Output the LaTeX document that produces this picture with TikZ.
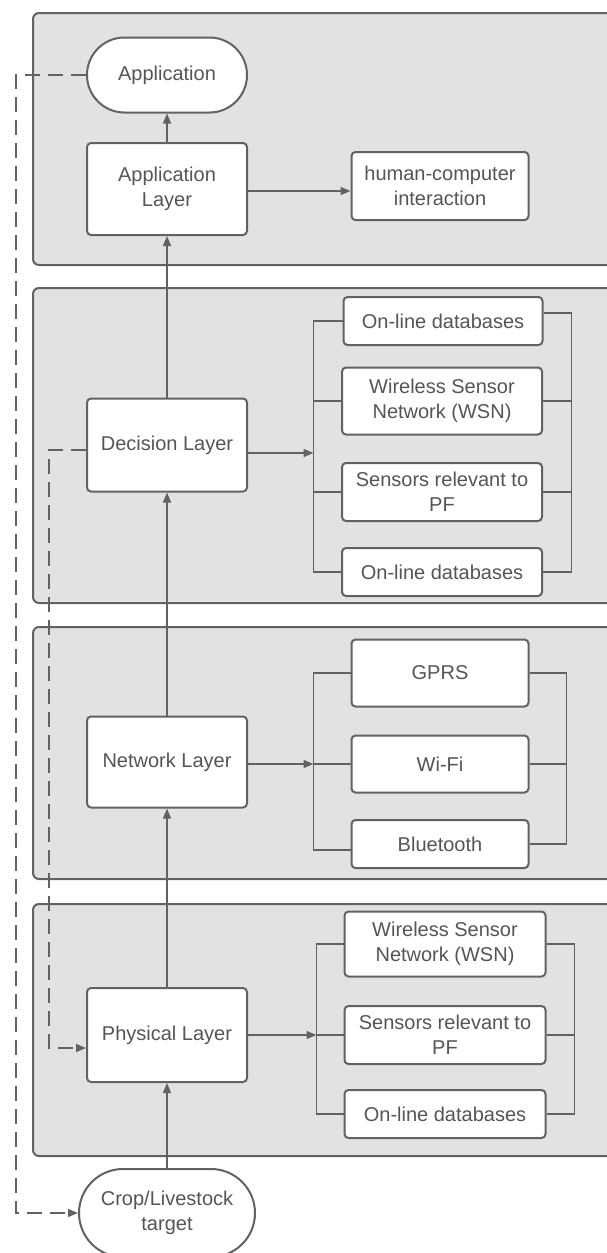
\documentclass[tikz,border=0pt]{standalone}
\usepackage{fontspec}
\setmainfont{Liberation Sans}
\usetikzlibrary{
	arrows.meta,
	shapes.misc,
}
\definecolor{panelfill}{HTML}{E2E2E2}
\definecolor{linegray}{HTML}{626262}
\definecolor{textgray}{HTML}{555555}

\begin{document}
\begin{tikzpicture}[x=1pt, y=-1pt,
	every node/.style={text=textgray, font=\fontsize{20}{25}\selectfont, align=center, inner sep=2pt},
	panel/.style={fill=panelfill, draw=linegray, line width=2pt, rounded corners=6pt},
	layerbox/.style={draw=linegray, fill=white, line width=2pt, rounded corners=4pt, minimum width=160pt},
	itembox/.style={draw=linegray, fill=white, line width=2pt, rounded corners=4pt},
	pill/.style={rounded rectangle, draw=linegray, fill=white, line width=2pt},
	link/.style={draw=linegray, line width=1.5pt},
	arr/.style={link, -{Triangle[length=10pt,width=8pt]}},
	feedback/.style={link, dash pattern=on 15pt off 8pt},
	]
\useasboundingbox (0,0) rectangle (606,1253);

% layer panels
\draw[panel] (33,13) rectangle (614,265);
\draw[panel] (33,288) rectangle (614,603);
\draw[panel] (33,627) rectangle (614,879);
\draw[panel] (33,904) rectangle (614,1156);

%% application layer
\node[pill, minimum width=164pt, minimum height=75pt] (app) at (167,75) {Application};
\node[layerbox, minimum height=92pt] (applayer) at (167,189) {Application\\Layer};
\node[itembox, minimum width=177pt, minimum height=68pt] (hci) at (440,186) {human-computer\\interaction};
\draw[arr] (applayer) -- (app);
\draw[arr] ([yshift=-2pt]applayer.east) -- ([yshift=-2pt]applayer.east -| hci.west);

%% decision layer
\node[layerbox, minimum height=93pt] (decision) at (167,445) {Decision Layer};
\node[itembox, minimum width=199pt, minimum height=48pt] (dec1) at (443,321) {On-line databases};
\node[itembox, minimum width=200pt, minimum height=67pt] (dec2) at (442,401) {Wireless Sensor\\Network (WSN)};
\node[itembox, minimum width=200pt, minimum height=58pt] (dec3) at (442,492) {Sensors relevant to\\PF};
\node[itembox, minimum width=200pt, minimum height=48pt] (dec4) at (442,572) {On-line databases};
\draw[arr] (decision) -- (applayer);
\draw[link] (dec1.west) -- ++(-29,0) coordinate (decL) |- (dec4.west);
\draw[link] (dec2.west) -- (dec2.west -| decL);
\draw[link] (dec3.west) -- (dec3.west -| decL);
\draw[link] ([yshift=8pt]dec1.east) -- ++(28,0) coordinate (decR) |- (dec4.east);
\draw[link] (dec2.east) -- (dec2.east -| decR);
\draw[link] (dec3.east) -- (dec3.east -| decR);
\draw[arr] ([yshift=-8pt]decision.east) -- ([yshift=-8pt]decision.east -| decL);

%% network layer
\node[layerbox, minimum height=91pt] (network) at (167,762) {Network Layer};
\node[itembox, minimum width=177pt, minimum height=67pt] (gprs) at (440,673) {GPRS};
\node[itembox, minimum width=177pt, minimum height=57pt] (wifi) at (440,764) {Wi-Fi};
\node[itembox, minimum width=177pt, minimum height=48pt] (bt) at (440,844) {Bluetooth};
\draw[arr] (network) -- (decision);
\draw[link] (gprs.west) -- ++(-37,0) coordinate (netL) |- ([yshift=-6pt]bt.west);
\draw[link] (wifi.west) -- (wifi.west -| netL);
\draw[link] (gprs.east) -- ++(37,0) coordinate (netR) |- (bt.east);
\draw[link] (wifi.east) -- (wifi.east -| netR);
\draw[arr] ([yshift=-2pt]network.east) -- ([yshift=-2pt]network.east -| netL);

%% physical layer
\node[layerbox, minimum height=94pt] (physical) at (167,1035) {Physical Layer};
\node[itembox, minimum width=201pt, minimum height=65pt] (phy1) at (445,944) {Wireless Sensor\\Network (WSN)};
\node[itembox, minimum width=201pt, minimum height=58pt] (phy2) at (445,1035) {Sensors relevant to\\PF};
\node[itembox, minimum width=201pt, minimum height=48pt] (phy3) at (445,1114) {On-line databases};
\draw[arr] (physical) -- (network);
\draw[link] (phy1.west) -- ++(-27,0) coordinate (phyL) |- (phy3.west);
\draw[link] (phy2.west) -- (phy2.west -| phyL);
\draw[link] (phy1.east) -- ++(28,0) coordinate (phyR) |- (phy3.east);
\draw[link] (phy2.east) -- (phy2.east -| phyR);
\draw[arr] (physical.east) -- (physical.east -| phyL);

% target
\node[pill, minimum width=180pt, minimum height=88pt] (crop) at (167,1213) {Crop/Livestock\\target};
\draw[arr] (crop) -- (physical);

% feedback loops
\draw[feedback, -{Triangle[length=10pt,width=8pt]}] (app.west) -- ++(-70,0) |- (crop.west);
\draw[feedback, -{Triangle[length=10pt,width=8pt]}] ([yshift=-5pt]decision.west) -- ++(-37,0) |- ([yshift=-13pt]physical.west);

\end{tikzpicture}
\end{document}
